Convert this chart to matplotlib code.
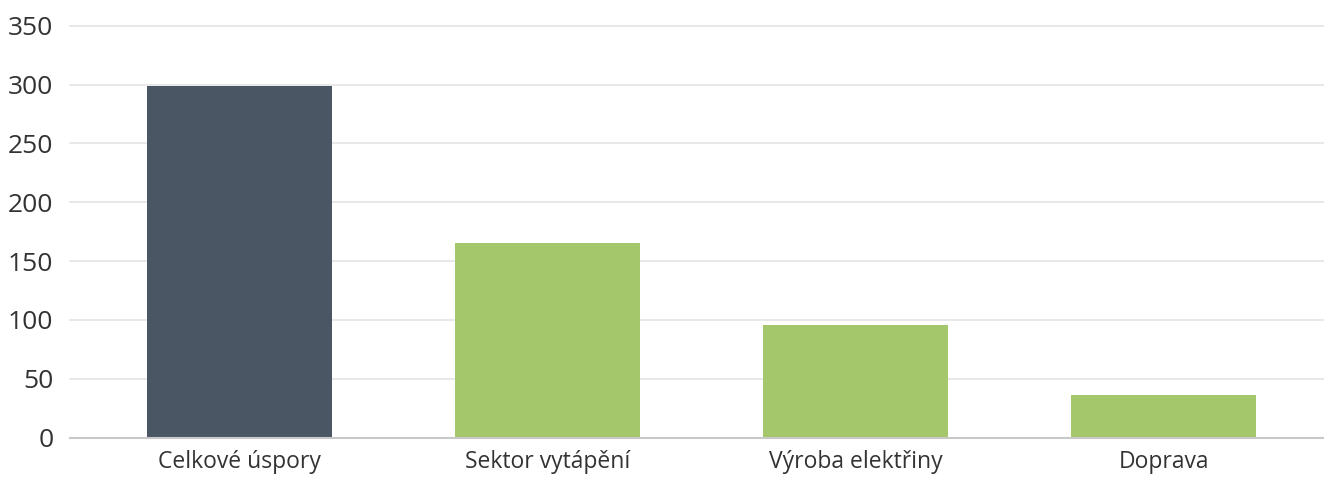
import matplotlib
matplotlib.use('Agg')
import matplotlib.pyplot as plt

categories = ["Celkové úspory", "Sektor vytápění", "Výroba elektřiny", "Doprava"]
values = [299, 165, 95.5, 36]
bar_colors = ["#4b5665", "#a5c76b", "#a5c76b", "#a5c76b"]
yticks = [0, 50, 100, 150, 200, 250, 300, 350]

plt.rcParams['font.family'] = ['Open Sans', 'DejaVu Sans']
text_color = "#333333"

fig = plt.figure(figsize=(13.24, 4.79), dpi=100)
ax = fig.add_axes([0.0529, 0.0862, 0.9471, 0.8601])

x = range(len(categories))
ax.bar(x, values, width=0.6, color=bar_colors, zorder=3)

ax.set_xlim(-0.55, 3.52)
ax.set_ylim(0, 350)
ax.set_yticks(yticks)
ax.set_xticks(list(x))
ax.set_xticklabels(categories)

ax.grid(axis='y', color="#e4e4e4", linewidth=1.2, zorder=0)
for line in ax.get_ygridlines():
    line.set_clip_on(False)

for side in ["top", "right", "left"]:
    ax.spines[side].set_visible(False)
ax.spines["bottom"].set_color("#c8c8c8")
ax.spines["bottom"].set_linewidth(1.5)
ax.spines["bottom"].set_zorder(4)

ax.tick_params(axis='y', length=0, pad=12, labelsize=19, labelcolor=text_color)
ax.tick_params(axis='x', length=0, pad=9, labelsize=16.5, labelcolor=text_color)

fig.savefig("out.png", dpi=100)
